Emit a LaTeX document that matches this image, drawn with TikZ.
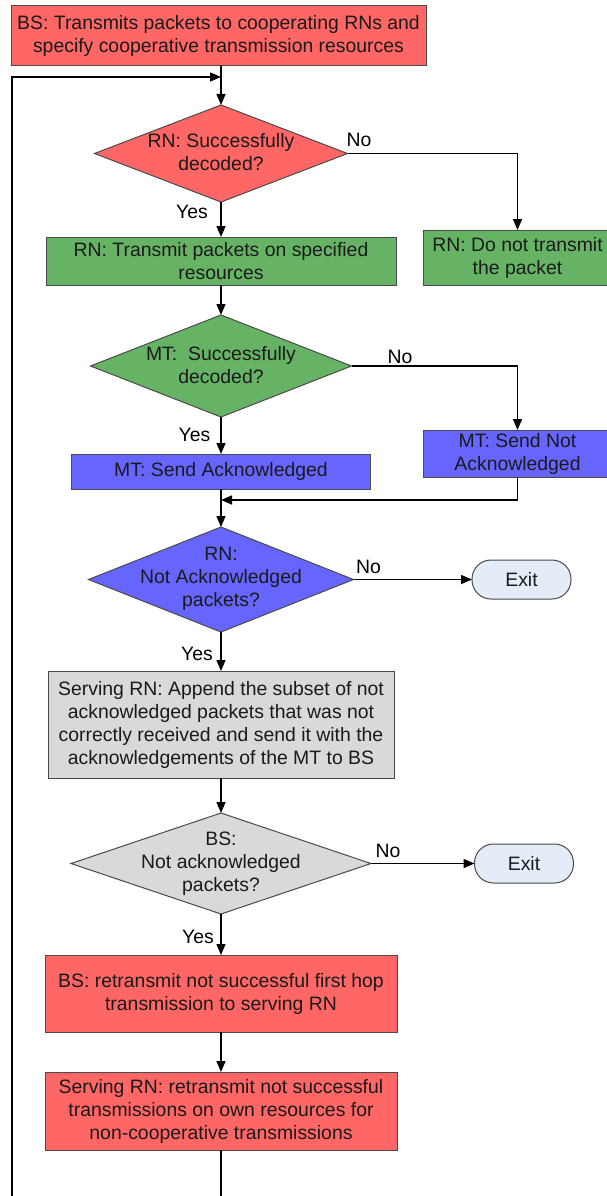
\documentclass[tikz,border=0pt]{standalone}
\usepackage{fontspec}
\setmainfont{Liberation Sans}
\usetikzlibrary{shapes.geometric,arrows.meta}

\definecolor{redfill}{HTML}{FF6666}
\definecolor{greenfill}{HTML}{66B366}
\definecolor{bluefill}{HTML}{6666FF}
\definecolor{grayfill}{HTML}{D9D9D9}
\definecolor{exitfill}{HTML}{E4ECF7}
\definecolor{edge}{HTML}{4A4A4A}
\definecolor{ink}{HTML}{1A1A1A}

\tikzset{
  txt/.style={font=\fontsize{19.4}{23}\selectfont, text=ink, align=center},
  procbox/.style={txt, rectangle, draw=edge, line width=1pt, inner sep=0pt, outer sep=0pt},
  decision/.style={diamond, draw=edge, line width=1pt, inner sep=0pt, outer sep=0pt},
  exitbox/.style={txt, rectangle, rounded corners=19pt, draw=edge, line width=1pt,
    fill=exitfill, minimum width=99pt, minimum height=39pt, inner sep=0pt, outer sep=0pt},
  lbl/.style={txt, inner sep=0pt, text=black},
  flow/.style={draw=black, line width=1.5pt, -{Triangle[length=11pt,width=9pt]}}
}

\begin{document}
\begin{tikzpicture}[x=1pt,y=-1pt]
\useasboundingbox (0,0) rectangle (606,1196);

% process boxes
\node[procbox, fill=redfill, minimum width=415pt, minimum height=60pt] (top) at (218.5,36)
  {BS: Transmits packets to cooperating RNs and\\specify cooperative transmission resources};
\node[procbox, fill=greenfill, minimum width=350pt, minimum height=48pt] (g1) at (221,261)
  {RN: Transmit packets on specified\\resources};
\node[procbox, fill=greenfill, minimum width=188pt, minimum height=55pt] (g2) at (517.5,257.5)
  {RN: Do not transmit\\the packet};
\node[procbox, fill=bluefill, minimum width=299pt, minimum height=35pt] (b1) at (221,471.5)
  {MT: Send Acknowledged};
\node[procbox, fill=bluefill, minimum width=188pt, minimum height=47pt] (b2) at (517.5,453.5)
  {MT: Send Not\\Acknowledged};
\node[procbox, fill=grayfill, minimum width=346pt, minimum height=107pt] (gr) at (221,724.5)
  {Serving RN: Append the subset of not\\acknowledged packets that was not\\correctly received and send it with the\\acknowledgements of the MT to BS};
\node[procbox, fill=redfill, minimum width=352pt, minimum height=77pt] (r3) at (221,993.5)
  {BS: retransmit not successful first hop\\transmission to serving RN};
\node[procbox, fill=redfill, minimum width=352pt, minimum height=78pt] (r4) at (221,1111)
  {Serving RN: retransmit not successful\\transmissions on own resources for\\non-cooperative transmissions};

% decisions
\node[decision, fill=redfill, minimum width=253pt, minimum height=97pt] (d1) at (221,153.5) {};
\node[txt] (d1t) at (221,152) {RN: Successfully\\decoded?};
\node[decision, fill=greenfill, minimum width=261pt, minimum height=102pt] (d2) at (221,366) {};
\node[txt] (d2t) at (221,365) {MT:\ \ Successfully\\decoded?};
\node[decision, fill=bluefill, minimum width=265pt, minimum height=105pt] (d3) at (221,579.5) {};
\node[txt] (d3t) at (221,579) {RN:\\Not Acknowledged\\packets?};
\node[decision, fill=grayfill, minimum width=300pt, minimum height=101pt] (d4) at (221,863.5) {};
\node[txt] (d4t) at (221,863.5) {BS:\\Not acknowledged\\packets?};

% terminators
\node[exitbox] (x1) at (521.5,579.5) {Exit};
\node[exitbox] (x2) at (524,863.5) {Exit};

% branch labels
\node[lbl] (n1) at (359,140) {No};
\node[lbl] (n2) at (400,357) {No};
\node[lbl] (n3) at (368.5,567) {No};
\node[lbl] (n4) at (388,851) {No};
\node[lbl] (y1) at (192,212) {Yes};
\node[lbl] (y2) at (194.5,435) {Yes};
\node[lbl] (y3) at (197,654) {Yes};
\node[lbl] (y4) at (198,937) {Yes};

% junction points
\coordinate (loopin) at (221,77);
\coordinate (loopcorner) at (12,1210);
\coordinate (merge) at (221,500);

% connectors
\draw[flow] (top.south -| d1.north) -- (d1.north);
\draw[flow] (r4.south) -- (r4.south |- loopcorner) -- (loopcorner) -- (loopcorner |- loopin) -- (loopin);
\draw[flow] (d1.south) -- (g1.north);
\draw[flow] (d1.east) -| (g2.north);
\draw[flow] (g1.south) -- (d2.north);
\draw[flow] (d2.south) -- (b1.north);
\draw[flow] (d2.east) -| (b2.north);
\draw[flow] (b1.south) -- (d3.north);
\draw[flow] (b2.south) |- (merge);
\draw[flow] (d3.east) -- (x1.west);
\draw[flow] (d3.south) -- (gr.north);
\draw[flow] (gr.south) -- (d4.north);
\draw[flow] (d4.east) -- (x2.west);
\draw[flow] (d4.south) -- (r3.north);
\draw[flow] (r3.south) -- (r4.north);
\end{tikzpicture}
\end{document}
